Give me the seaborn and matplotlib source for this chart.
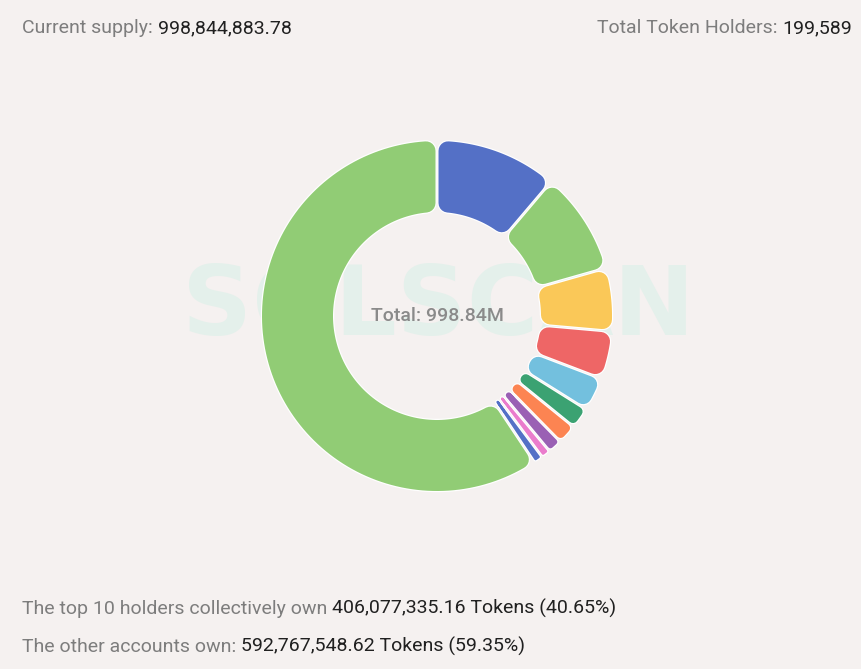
import matplotlib
matplotlib.use('Agg')
import matplotlib.pyplot as plt
from matplotlib.patches import Polygon
import seaborn as sns
import numpy as np

# ---------------- data ----------------
holders = ['Holder 1', 'Holder 2', 'Holder 3', 'Holder 4', 'Holder 5',
           'Holder 6', 'Holder 7', 'Holder 8', 'Holder 9', 'Holder 10', 'Others']
shares = [11.2, 9.4, 5.8, 4.4, 3.1, 1.95, 1.8, 1.3, 0.85, 0.85, 59.35]
colors = ['#5470c6', '#91cc75', '#fac858', '#ee6666', '#73c0de', '#3ba272',
          '#fc8452', '#9a60b4', '#ea7ccc', '#5470c6', '#91cc75']

supply_label = 'Current supply: '
supply_value = '998,844,883.78'
holders_label = 'Total Token Holders: '
holders_value = '199,589'
top10_label = 'The top 10 holders collectively own '
top10_value = '406,077,335.16 Tokens (40.65%)'
other_label = 'The other accounts own: '
other_value = '592,767,548.62 Tokens (59.35%)'
center_text = 'Total: 998.84M'
watermark = 'SOLSCAN'

# ---------------- style ----------------
sns.set_theme(style='white')
plt.rcParams['font.family'] = ['Roboto', 'DejaVu Sans']
BG = '#f5f1f0'
GRAY = '#7d7d7d'
DARK = '#202020'
W, H = 862, 669
PT = 72.0 / 100.0  # px -> points

fig = plt.figure(figsize=(W / 100, H / 100), dpi=100, facecolor=BG)
ax = fig.add_axes([0, 0, 1, 1])
ax.set_facecolor(BG)

cx, cy = 437, H - 316
R_OUT, R_IN = 175, 104

wedges, _ = ax.pie(shares, colors=colors, startangle=90, counterclock=False,
                   radius=R_OUT, center=(cx, cy), frame=True,
                   wedgeprops=dict(width=R_OUT - R_IN))
ax.set_xlim(0, W)
ax.set_ylim(0, H)
ax.set_aspect('equal')
ax.axis('off')

# watermark
ax.text(438, H - 335, watermark, ha='center', va='baseline', fontsize=70,
        fontweight='bold', family=['DejaVu Sans'], color='#e4f0eb', zorder=0)

# rounded donut segments (erode + round-stroke dilate)
G = 3.0     # gap between segments, px
D = 9.5     # corner radius, px
B = 1.2     # white border, px


def seg_vertices(t1, t2, d):
    e = G / 2 + d
    ro, ri = R_OUT - d, R_IN + d
    a_o1 = t1 + np.rad2deg(np.arcsin(min(1, e / ro)))
    a_o2 = t2 - np.rad2deg(np.arcsin(min(1, e / ro)))
    a_i1 = t1 + np.rad2deg(np.arcsin(min(1, e / ri)))
    a_i2 = t2 - np.rad2deg(np.arcsin(min(1, e / ri)))
    if a_o2 < a_o1:
        m = (a_o1 + a_o2) / 2
        a_o1 = a_o2 = m
    if a_i2 < a_i1:
        m = (a_i1 + a_i2) / 2
        a_i1 = a_i2 = m
    to = np.deg2rad(np.linspace(a_o1, a_o2, 120))
    ti = np.deg2rad(np.linspace(a_i2, a_i1, 120))
    xo, yo = cx + ro * np.cos(to), cy + ro * np.sin(to)
    xi, yi = cx + ri * np.cos(ti), cy + ri * np.sin(ti)
    return np.column_stack([np.r_[xo, xi], np.r_[yo, yi]])


for w, col in zip(wedges, colors):
    t1, t2 = w.theta1, w.theta2
    span = np.deg2rad(t2 - t1)
    d = min(D, max(0.9, (span * R_IN - G) / 2))
    verts = seg_vertices(t1, t2, d)
    w.set_visible(False)
    ax.add_patch(Polygon(verts, closed=True, facecolor='white', edgecolor='white',
                         linewidth=2 * (d + B) * PT, joinstyle='round', zorder=2))
    ax.add_patch(Polygon(verts, closed=True, facecolor=col, edgecolor=col,
                         linewidth=2 * d * PT, joinstyle='round', zorder=3))

ax.text(cx, cy, center_text, ha='center', va='center', fontsize=14,
        fontweight='medium', color='#8a8a8a', zorder=4)

# ---------------- header / footer texts ----------------
FS = 14
fig.canvas.draw()
r = fig.canvas.get_renderer()


def two_part_left(x, y, lab, val):
    t = ax.text(x, y, lab, ha='left', va='baseline', fontsize=FS, color=GRAY)
    bb = t.get_window_extent(renderer=r)
    ax.text(bb.x1, y, val, ha='left', va='baseline', fontsize=FS, color=DARK)


def two_part_right(x, y, lab, val):
    t = ax.text(x, y, val, ha='right', va='baseline', fontsize=FS, color=DARK)
    bb = t.get_window_extent(renderer=r)
    ax.text(bb.x0, y, lab, ha='right', va='baseline', fontsize=FS, color=GRAY)


two_part_left(22, H - 33, supply_label, supply_value)
two_part_right(852, H - 33, holders_label, holders_value)
two_part_left(22, H - 614, top10_label, top10_value)
two_part_left(22, H - 652, other_label, other_value)

fig.savefig('out.png', dpi=100, facecolor=BG)
